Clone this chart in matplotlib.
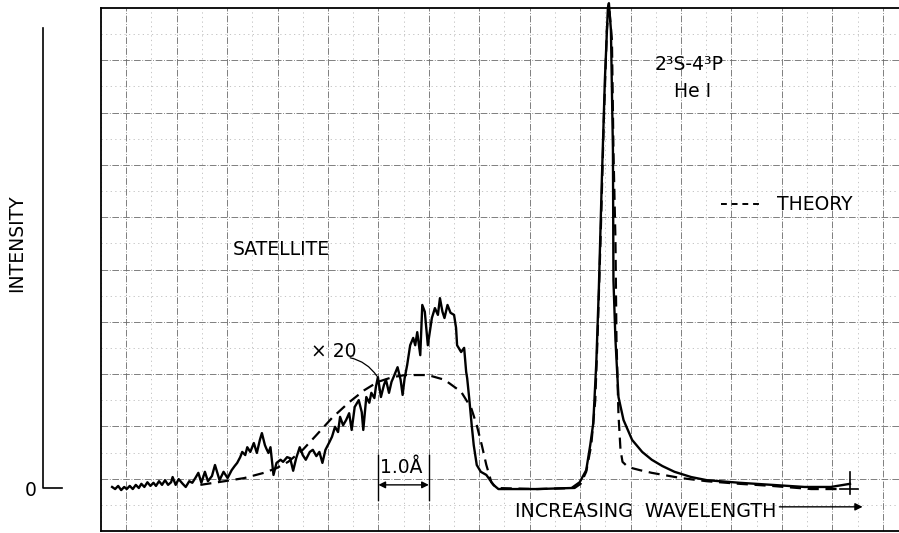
import matplotlib
matplotlib.use("Agg")
import matplotlib.pyplot as plt
from matplotlib.lines import Line2D

# wavelength offset (A, one grid division = 1.0 A) and intensity (grid divisions above zero)
exp_wl = [-0.28, -0.22, -0.16, -0.10, -0.04, 0.01, 0.07, 0.13, 0.19, 0.25,
          0.30, 0.36, 0.42, 0.48, 0.54, 0.59, 0.65, 0.71, 0.77, 0.83,
          0.89, 0.92, 0.98, 1.04, 1.12, 1.18, 1.25, 1.31, 1.37, 1.43,
          1.49, 1.56, 1.62, 1.70, 1.76, 1.85, 1.93, 2.01, 2.09, 2.15,
          2.20, 2.26, 2.30, 2.36, 2.40, 2.46, 2.53, 2.59, 2.65, 2.69,
          2.75, 2.78, 2.82, 2.86, 2.92, 2.98, 3.06, 3.11, 3.19, 3.25,
          3.31, 3.37, 3.44, 3.50, 3.56, 3.64, 3.70, 3.77, 3.83, 3.89,
          3.95, 4.03, 4.08, 4.14, 4.20, 4.24, 4.30, 4.36, 4.42, 4.47,
          4.53, 4.61, 4.67, 4.70, 4.76, 4.82, 4.86, 4.92, 4.95, 4.99,
          5.05, 5.11, 5.15, 5.21, 5.26, 5.30, 5.38, 5.44, 5.48, 5.52,
          5.57, 5.63, 5.69, 5.73, 5.77, 5.83, 5.87, 5.92, 5.98, 6.06,
          6.12, 6.18, 6.22, 6.27, 6.31, 6.37, 6.43, 6.50, 6.54, 6.56,
          6.64, 6.70, 6.74, 6.76, 6.80, 6.85, 6.89, 6.95, 7.03, 7.14,
          7.28, 7.38, 8.15, 8.83, 8.99, 9.12, 9.20, 9.26, 9.32, 9.37,
          9.43, 9.49, 9.55, 9.57, 9.61, 9.65, 9.66, 9.70, 9.76, 9.86,
          10.03, 10.23, 10.42, 10.63, 10.87, 11.20, 11.51, 12.16, 12.80, 13.45,
          13.97, 14.35]
exp_int = [0.02, -0.02, 0.04, -0.04, 0.02, -0.02, 0.04, -0.02, 0.06, 0.00,
           0.08, 0.02, 0.11, 0.04, 0.10, 0.04, 0.13, 0.06, 0.15, 0.06,
           0.11, 0.21, 0.06, 0.17, 0.08, 0.02, 0.13, 0.10, 0.19, 0.29,
           0.10, 0.31, 0.13, 0.23, 0.44, 0.15, 0.31, 0.19, 0.34, 0.42,
           0.48, 0.59, 0.69, 0.63, 0.78, 0.69, 0.86, 0.67, 0.92, 1.05,
           0.82, 0.75, 0.67, 0.78, 0.25, 0.48, 0.54, 0.50, 0.59, 0.57,
           0.33, 0.57, 0.78, 0.63, 0.54, 0.69, 0.73, 0.61, 0.69, 0.48,
           0.73, 0.88, 0.98, 1.17, 1.07, 1.36, 1.20, 1.30, 1.43, 1.11,
           1.55, 1.68, 1.45, 1.11, 1.74, 1.63, 1.82, 1.72, 1.93, 2.12,
           1.74, 1.97, 2.07, 1.82, 2.03, 2.12, 2.31, 2.07, 1.78, 2.10,
           2.35, 2.73, 2.87, 2.73, 2.98, 2.54, 3.50, 3.37, 2.73, 3.25,
           3.44, 3.31, 3.63, 3.37, 3.25, 3.50, 3.35, 3.31, 3.06, 2.73,
           2.60, 2.68, 2.22, 2.10, 1.72, 1.20, 0.82, 0.44, 0.31, 0.25,
           0.06, -0.02, -0.02, 0.00, 0.11, 0.34, 0.82, 1.24, 2.39, 3.79,
           5.89, 7.80, 9.18, 9.27, 8.76, 6.46, 3.98, 2.83, 1.74, 1.30,
           0.92, 0.69, 0.54, 0.42, 0.31, 0.21, 0.15, 0.10, 0.06, 0.02,
           0.02, 0.08]

theo_wl = [1.47, 1.95, 2.34, 2.73, 2.98, 3.21, 3.50, 3.75, 4.08, 4.42,
           4.72, 4.99, 5.28, 5.53, 5.98, 6.31, 6.64, 6.84, 6.95, 7.05,
           7.14, 7.24, 7.34, 8.15, 8.89, 9.01, 9.12, 9.22, 9.30, 9.35,
           9.41, 9.47, 9.53, 9.57, 9.63, 9.66, 9.70, 9.72, 9.76, 9.80,
           9.84, 9.95, 10.19, 10.42, 11.00, 11.51, 12.16, 12.80, 13.58, 14.16]
theo_int = [0.06, 0.13, 0.19, 0.29, 0.38, 0.50, 0.73, 0.99, 1.34, 1.64,
            1.87, 2.03, 2.12, 2.16, 2.16, 2.07, 1.84, 1.53, 1.20, 0.82,
            0.44, 0.11, 0.00, -0.02, 0.00, 0.08, 0.31, 0.82, 1.68, 3.02,
            4.93, 7.04, 8.76, 9.24, 8.57, 6.46, 4.74, 2.83, 1.40, 0.73,
            0.50, 0.40, 0.34, 0.29, 0.19, 0.13, 0.08, 0.04, -0.02, -0.02]

W, H = 899, 533
fig = plt.figure(figsize=(W / 100, H / 100), dpi=100)
ax = fig.add_axes([101 / W, 2 / H, 1 - 101 / W + 0.01, 523 / H])
ax.set_xlim(-0.355, 15.25)
ax.set_ylim(-0.822, 9.178)

# chart paper grid
top = 9.178
ax.set_xticks(range(0, 16))
ax.set_xticks([k + 0.5 for k in range(-1, 16)], minor=True)
ax.set_yticks([top - k for k in range(1, 10)])
ax.set_yticks([top - k - 0.5 for k in range(0, 10)], minor=True)
ax.grid(which="major", color="#6a6a6a", lw=0.6, ls=(0, (8, 2, 1, 2)))
ax.grid(which="minor", color="#bbbbbb", lw=0.6, ls=(0, (1.5, 4)))
ax.tick_params(which="both", length=0, labelbottom=False, labelleft=False)
ax.set_axisbelow(True)
for s in ["left", "top", "bottom"]:
    ax.spines[s].set_linewidth(1.3)
ax.spines["right"].set_visible(False)

ax.plot(exp_wl, exp_int, color="black", lw=1.7, clip_on=False, zorder=3)
ax.plot(theo_wl, theo_int, color="black", lw=1.6, ls="--", dashes=(5, 3),
        clip_on=False, zorder=3)

fs = 13.5
ax.text(3.08, 4.46, "SATELLITE", fontsize=fs, ha="center", va="baseline")
ax.text(4.11, 2.50, "× 20", fontsize=fs, ha="center", va="baseline")
ax.annotate("", xy=(4.97, 2.14), xytext=(4.44, 2.49),
            arrowprops=dict(arrowstyle="-", lw=0.9, color="black",
                            connectionstyle="arc3,rad=-0.2", shrinkA=0, shrinkB=0))
ax.text(5.46, 0.29, "1.0Å", fontsize=fs, ha="center", va="baseline")
ax.annotate("", xy=(5, 0.06), xytext=(6, 0.06),
            arrowprops=dict(arrowstyle="<|-|>", lw=1, color="black",
                            mutation_scale=10, shrinkA=0, shrinkB=0))
ax.plot([5, 5], [-0.23, 0.63], color="black", lw=1)
ax.plot([6, 6], [-0.23, 0.63], color="black", lw=1)

ax.text(11.16, 7.99, "2³S-4³P", fontsize=fs, ha="center", va="baseline")
ax.text(11.22, 7.48, "He I", fontsize=fs, ha="center", va="baseline")
ax.plot([11.80, 12.57], [5.43, 5.43], color="black", lw=1.4, ls="--", dashes=(3, 2.5))
ax.text(12.90, 5.32, "THEORY", fontsize=fs, ha="left", va="baseline")

ax.text(7.71, -0.55, "INCREASING  WAVELENGTH", fontsize=13.7, ha="left", va="baseline")
ax.annotate("", xy=(14.60, -0.36), xytext=(12.95, -0.36),
            arrowprops=dict(arrowstyle="-|>", lw=1, color="black",
                            mutation_scale=11, shrinkA=0, shrinkB=0))
# end mark of the scan
ax.plot([14.35, 14.35], [-0.11, 0.31], color="black", lw=1.2)
ax.plot([14.16, 14.51], [-0.02, -0.02], color="black", lw=1.2)

# intensity scale outside the frame
fig.add_artist(Line2D([43 / W, 43 / W, 62 / W], [1 - 28 / H, 1 - 488 / H, 1 - 488 / H],
                      color="black", lw=1.2))
fig.text(17 / W, 1 - 243 / H, "INTENSITY", rotation=90, fontsize=fs,
         ha="center", va="center")
fig.text(31 / W, 1 - 491 / H, "0", fontsize=fs, ha="center", va="center")

fig.savefig("out.png", dpi=100, facecolor="white")
